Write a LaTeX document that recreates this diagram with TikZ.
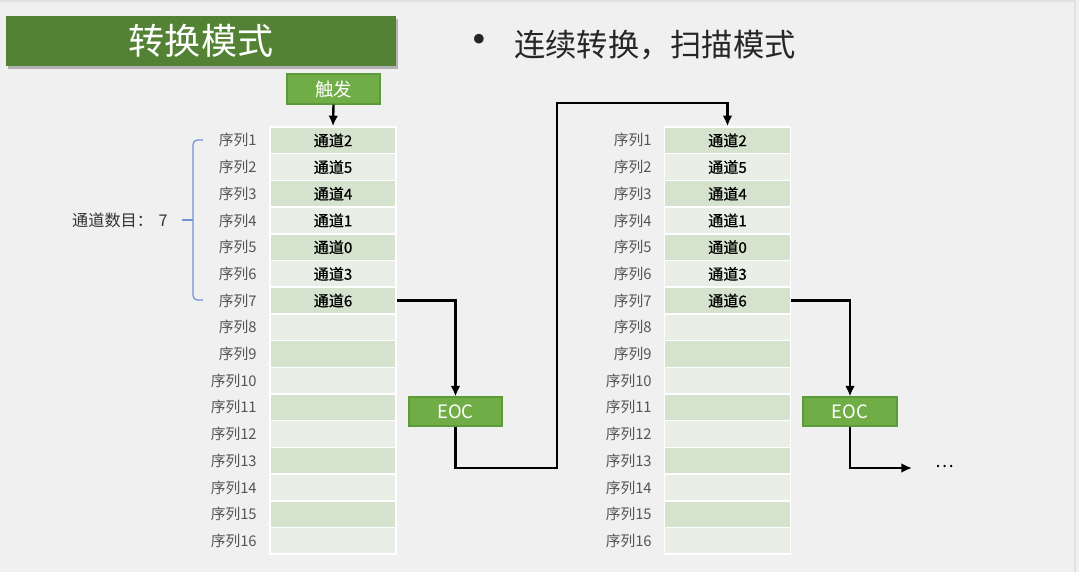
\documentclass[tikz,border=0pt]{standalone}
\usepackage{fontspec}
\setmainfont{Noto Sans CJK SC}
\newfontfamily\cellfont{Noto Sans CJK SC}[FakeBold=0.6]
\usetikzlibrary{arrows.meta}
\definecolor{bg}{HTML}{F0F0F0}
\definecolor{titlegreen}{HTML}{548235}
\definecolor{boxgreen}{HTML}{70AD47}
\definecolor{boxborder}{HTML}{5B9B3A}
\definecolor{rowdark}{HTML}{D5E3CE}
\definecolor{rowlight}{HTML}{E9EFE7}
\definecolor{labelgray}{HTML}{555555}
\definecolor{braceblue}{HTML}{6F93D3}
\tikzset{
  cellbox/.style={draw=white, line width=0.9pt, minimum width=126*0.02cm, minimum height=26.7*0.02cm, inner sep=0pt, font=\cellfont\fontsize{8.6}{10}\selectfont, text=black},
  rowlabel/.style={anchor=east, inner sep=0pt, font=\fontsize{8.4}{10}\selectfont, text=labelgray},
  greenbox/.style={draw=boxborder, fill=boxgreen, line width=0.6pt, text=white, inner sep=0pt, font=\fontsize{10.5}{12}\selectfont},
  conn/.style={line width=1.35pt, black},
  tip/.style={-{Latex[length=6pt,width=5.5pt]}}
}
\begin{document}
\begin{tikzpicture}[x=0.02cm,y=-0.02cm]
\fill[bg] (0,0) rectangle (1079,572);
\useasboundingbox (0,0) rectangle (1079,572);
\draw[black!12, line width=0.6pt] (0,1) -- (1075,1) -- (1075,572);
% title
\fill[black!30] (8,19) rectangle (398,69);
\node[fill=titlegreen, minimum width=390*0.02cm, minimum height=50*0.02cm, inner sep=0pt, text=white, font=\fontsize{20.5}{23}\selectfont] (title) at (201,41) {转换模式};
\node[inner sep=0pt, text=black!85, font=\fontsize{26}{28}\selectfont] (dot) at (479,45) {•};
\node[anchor=west, inner sep=0pt, text=black!85, font=\fontsize{17.8}{20}\selectfont] (bullet) at (514,45) {连续转换，扫描模式};
% trigger
\node[greenbox, minimum width=93*0.02cm, minimum height=30*0.02cm] (trig) at (333.5,89) {触发};
% tables
\def\chA{{"2","5","4","1","0","3","6"}}
\foreach \i in {1,...,16}{
  \pgfmathsetmacro{\yy}{127+(\i-0.5)*26.7}
  \pgfmathtruncatemacro{\odd}{mod(\i,2)}
  \ifnum\odd=1 \def\rc{rowdark}\else\def\rc{rowlight}\fi
  \ifnum\i<8
    \pgfmathsetmacro{\ch}{\chA[\i-1]}
    \node[cellbox, fill=\rc] (a\i) at (333,\yy) {通道\ch};
    \node[cellbox, fill=\rc] (b\i) at (727.5,\yy) {通道\ch};
  \else
    \node[cellbox, fill=\rc] (a\i) at (333,\yy) {};
    \node[cellbox, fill=\rc] (b\i) at (727.5,\yy) {};
  \fi
  \node[rowlabel] (la\i) at (257,\yy) {序列\i};
  \node[rowlabel] (lb\i) at (652,\yy) {序列\i};
}
% brace
\draw[braceblue, line width=0.7pt, rounded corners=2.5pt] (203,140) -- (193,140) -- (193,300) -- (203,300);
\draw[braceblue, line width=0.7pt] (182,220) -- (193,220);
\node[anchor=east, inner sep=0pt, text=black!80, font=\fontsize{9.2}{11}\selectfont] (count) at (168,220) {通道数目：\hspace{0.35em}7};
% EOC boxes
\node[greenbox, minimum width=93*0.02cm, minimum height=29*0.02cm] (eoc1) at (455.5,411.5) {EOC};
\node[greenbox, minimum width=94*0.02cm, minimum height=29*0.02cm] (eoc2) at (850,411.5) {EOC};
\coordinate (c1) at (557,468);
\coordinate (c2) at (557,103);
\coordinate (c3) at (912,468);
\node[inner sep=0pt, font=\fontsize{10}{12}\selectfont] (dots) at (945,466) {…};
% connectors
\draw[conn, tip] (trig.south) -- (a1.north);
\draw[conn, tip] (a7.east) -| (eoc1.north);
\draw[conn, tip] (eoc1.south) |- (c1) -- (c2) -| (b1.north);
\draw[conn, tip] (b7.east) -| (eoc2.north);
\draw[conn, tip] (eoc2.south) |- (c3);
\end{tikzpicture}
\end{document}
